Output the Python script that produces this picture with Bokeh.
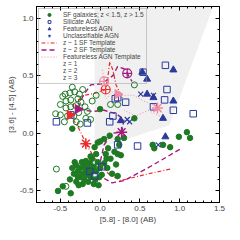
import numpy as np
from bokeh.plotting import figure
from bokeh.models import (Range1d, LinearAxis, SingleIntervalTicker, PrintfTickFormatter,
                          Legend, LegendItem, ColumnDataSource)
from bokeh.embed import file_html
from bokeh.resources import INLINE

# ---------------- data ----------------
# AGN selection wedge (shaded)
wedge_x = [-0.07, -0.07, 0.87, 1.42]
wedge_y = [1.10, -0.14, 0.07, 1.10]

# SF galaxies z < 1.5 (filled)
sf_lo_x = [-0.53, -0.47, -0.37, -0.30, -0.33, -0.35, -0.30, -0.28, -0.25, -0.25, -0.22, -0.20,
           -0.20, -0.18, -0.17, -0.15, -0.15, -0.13, -0.12, -0.10, -0.10, -0.08, -0.06, -0.05,
           -0.03, -0.02, 0.00, 0.02, -0.27, -0.22, -0.18, -0.12, -0.05, -0.07, -0.03, -0.32,
           -0.23, -0.28, -0.38, -0.08, 0.05, 0.08, 0.09, 0.13, 0.18, 0.22, 0.26, 0.20, 0.22,
           0.15, 0.22, 0.30, 0.24, 0.43, 0.66, 0.68, 0.79, 0.88, 0.99, 1.09, 1.13, 0.10, 0.05,
           0.12, 0.00, -0.35, 0.00, 0.07, -0.14, -0.01]
sf_lo_y = [-0.50, -0.46, -0.52, -0.42, -0.35, -0.30, -0.28, -0.33, -0.30, -0.38, -0.35, -0.28,
           -0.40, -0.32, -0.36, -0.30, -0.42, -0.26, -0.38, -0.33, -0.22, -0.29, -0.40, -0.33,
           -0.25, -0.45, -0.30, -0.36, -0.45, -0.44, -0.24, -0.20, -0.18, -0.12, -0.08, -0.25,
           -0.25, -0.38, -0.40, -0.44, -0.26, -0.22, -0.30, -0.22, -0.16, -0.18, -0.19, -0.27,
           -0.37, -0.35, -0.05, -0.04, -0.10, 0.13, -0.10, -0.13, -0.10, -0.12, -0.03, 0.01,
           -0.04, -0.13, -0.05, -0.02, 0.21, 0.04, -0.07, -0.18, -0.34, -0.38]

# SF galaxies z > 1.5 (open)
sf_hi_x = [-0.44, -0.38, -0.32, -0.26, -0.28, -0.37, -0.43, -0.50, -0.43, -0.37, -0.30, -0.24,
           -0.19, -0.56, -0.50, -0.41, -0.33, -0.27, -0.16, -0.18, -0.12, -0.05, -0.55, -0.43,
           0.43, 0.13, 0.22, -0.45, -0.22, -0.10, -0.47, -0.35, -0.30, -0.25]
sf_hi_y = [0.34, 0.35, 0.36, 0.34, 0.30, 0.29, 0.28, 0.25, 0.22, 0.23, 0.24, 0.27,
           0.23, 0.17, 0.16, 0.15, 0.15, 0.18, 0.19, 0.13, 0.12, 0.33, -0.31, -0.46,
           0.42, 0.25, 0.25, 0.10, 0.38, 0.28, 0.32, 0.40, 0.10, 0.08]

# Silicate AGN
sil_x = [0.82, 0.54, 0.84, 0.81, 0.92, 1.17, 0.67, 0.32, 0.22, 0.16, 0.47, 0.22, -0.55,
         -0.16, 0.12, -0.13, -0.07, 0.02, -0.37, 0.19]
sil_y = [0.59, 0.53, 0.38, 0.29, 0.20, 0.17, 0.23, 0.27, 0.31, 0.15, -0.11, -0.10, 0.10,
         0.09, 0.10, -0.33, -0.37, -0.29, 0.16, 0.30]

# Featureless AGN
feat_x = [0.92, 0.53, 0.59, 0.59, 0.67, 0.92, 0.79, 0.82, 0.26]
feat_y = [0.55, 0.53, 0.47, 0.34, 0.31, 0.28, 0.13, -0.03, 0.11]

# Unclassifiable AGN
uncl_x = [0.51, 0.37, 0.73, 0.67, 0.34]
uncl_y = [0.34, 0.10, -0.10, 0.33, 0.12]

# z~1 SF template track
t1_x = [0.88, 0.55, 0.26, 0.12, 0.00, -0.10, -0.18, -0.25, -0.32, -0.38, -0.33, -0.20,
        -0.05, 0.07, 0.10, 0.12, 0.16, 0.20, 0.25, 0.28]
t1_y = [-0.31, -0.36, -0.41, -0.36, -0.28, -0.18, -0.09, 0.02, 0.10, 0.16, 0.26, 0.33,
        0.35, 0.38, 0.50, 0.62, 0.55, 0.42, 0.35, 0.30]
t1_zx = [-0.18, -0.38, 0.07]
t1_zy = [-0.09, 0.16, 0.38]

# z~2 SF template track
t2_x = [1.00, 0.60, 0.30, 0.15, 0.02, 0.00, 0.05, 0.15, 0.27, 0.30, 0.20, 0.05, -0.10,
        -0.28, -0.22, -0.12, 0.02, 0.16, 0.22, 0.30, 0.34, 0.40]
t2_y = [-0.14, -0.30, -0.41, -0.43, -0.38, -0.25, -0.10, 0.00, 0.01, 0.12, 0.17, 0.20, 0.19,
        0.21, 0.32, 0.42, 0.43, 0.50, 0.58, 0.56, 0.52, 0.45]
t2_zx = [0.27, -0.28, 0.34]
t2_zy = [0.01, 0.21, 0.52]

# Featureless AGN template track
ta_x = [0.03, 0.05, 0.02, 0.08, 0.15, 0.20, 0.30, 0.42, 0.55, 0.65, 0.72, 0.78, 0.82, 0.75,
        0.60, 0.45, 0.30]
ta_y = [0.55, 0.45, 0.38, 0.30, 0.36, 0.32, 0.33, 0.33, 0.28, 0.25, 0.22, 0.18, 0.12, 0.15,
        0.20, 0.15, 0.20]
ta_zx = [0.72, 0.22, 0.05]
ta_zy = [0.22, 0.34, 0.45]

# ---------------- styles ----------------
GREEN = "#1f7a24"
BLUE = "#2b3a9c"
RED = "#ee2a2a"
MAG = "#a3197e"
PINK = "#f38aa2"
FONT = "Liberation Sans"

p = figure(width=228, height=228, output_backend="svg", toolbar_location=None,
           x_range=Range1d(-0.8, 1.5), y_range=Range1d(-0.6, 1.1),
           frame_width=183, frame_height=196,
           min_border_left=36, min_border_right=9, min_border_top=6, min_border_bottom=26)
p.grid.visible = False
p.outline_line_color = "black"

p.patch(wedge_x, wedge_y, fill_color="#eff0ef", line_color=None)

r_t1 = p.line(t1_x, t1_y, line_color=RED, line_dash="4 2 1 2", line_width=1.2)
r_t2 = p.line(t2_x, t2_y, line_color=MAG, line_dash="5 3", line_width=1.4)
r_ta = p.line(ta_x, ta_y, line_color=PINK, line_dash="1 2", line_width=1.0)

r_sfl = p.scatter(sf_lo_x, sf_lo_y, marker="circle", size=5.5, fill_color=GREEN, line_color=GREEN)
r_sfh = p.scatter(sf_hi_x, sf_hi_y, marker="circle", size=6, fill_color=None, line_color=GREEN, line_width=1)
r_sil = p.scatter(sil_x, sil_y, marker="square", size=6.5, fill_color=None, line_color=BLUE, line_width=1)
r_fea = p.scatter(feat_x, feat_y, marker="triangle", size=7, fill_color=BLUE, line_color=BLUE)
r_unc = p.scatter(uncl_x, uncl_y, marker="x", size=7, line_color=BLUE, line_width=1.2)

for zx, zy, c in [(t1_zx, t1_zy, RED), (t2_zx, t2_zy, MAG), (ta_zx, ta_zy, PINK)]:
    p.scatter(zx[0:1], zy[0:1], marker="asterisk", size=11, line_color=c, line_width=1.5)
    p.scatter(zx[1:2], zy[1:2], marker="triangle", angle=-np.pi / 2, size=9, fill_color=c, line_color=c)
    p.scatter(zx[2:3], zy[2:3], marker="circle_cross", size=9, fill_color=None, line_color=c, line_width=1.2)

# legend-only renderers for redshift markers
empty = dict(x=[], y=[])
r_z1 = p.scatter("x", "y", source=ColumnDataSource(empty), marker="asterisk", size=6, line_color="#333333")
r_z2 = p.scatter("x", "y", source=ColumnDataSource(empty), marker="triangle", angle=-np.pi / 2, size=6,
                 fill_color="#222222", line_color="#222222")
r_z3 = p.scatter("x", "y", source=ColumnDataSource(empty), marker="circle_cross", size=6,
                 fill_color=None, line_color="#555555")

items = [
    LegendItem(label="SF galaxies; z < 1.5, z > 1.5", renderers=[r_sfl, r_sfh]),
    LegendItem(label="Silicate AGN", renderers=[r_sil]),
    LegendItem(label="Featureless AGN", renderers=[r_fea]),
    LegendItem(label="Unclassifiable AGN", renderers=[r_unc]),
    LegendItem(label="z ~ 1 SF Template", renderers=[r_t1]),
    LegendItem(label="z ~ 2 SF Template", renderers=[r_t2]),
    LegendItem(label="Featureless AGN Template", renderers=[r_ta]),
    LegendItem(label="z = 1", renderers=[r_z1]),
    LegendItem(label="z = 2", renderers=[r_z2]),
    LegendItem(label="z = 3", renderers=[r_z3]),
]
leg = Legend(items=items, location="top_left", label_text_font=FONT, label_text_font_size="6.5px",
             label_height=7, glyph_height=7, glyph_width=16, label_standoff=6, spacing=0,
             padding=2, margin=2, border_line_color="#999999", border_line_width=1,
             background_fill_alpha=0.0)
p.add_layout(leg)

ticker = SingleIntervalTicker(interval=0.5, num_minor_ticks=5)
for ax in [p.xaxis[0], p.yaxis[0]]:
    ax.ticker = ticker
    ax.formatter = PrintfTickFormatter(format="%.1f")
    ax.major_tick_in = 4
    ax.major_tick_out = 0
    ax.minor_tick_in = 2
    ax.minor_tick_out = 0
    ax.major_label_text_font = FONT
    ax.major_label_text_font_size = "8px"
    ax.axis_label_text_font = FONT
    ax.axis_label_text_font_size = "8px"
    ax.axis_label_text_font_style = "normal"
    ax.major_label_standoff = 3
    ax.axis_label_standoff = 1
p.xaxis[0].axis_label = "[5.8] - [8.0] (AB)"
p.yaxis[0].axis_label = "[3.6] - [4.5] (AB)"

for loc in ["right", "above"]:
    ax = LinearAxis(ticker=ticker, major_label_text_color=None, major_label_text_font_size="2px",
                    major_tick_in=4, major_tick_out=0, minor_tick_in=2, minor_tick_out=0,
                    major_label_standoff=0)
    p.add_layout(ax, loc)

open("out.html", "w").write(file_html(p, INLINE))
